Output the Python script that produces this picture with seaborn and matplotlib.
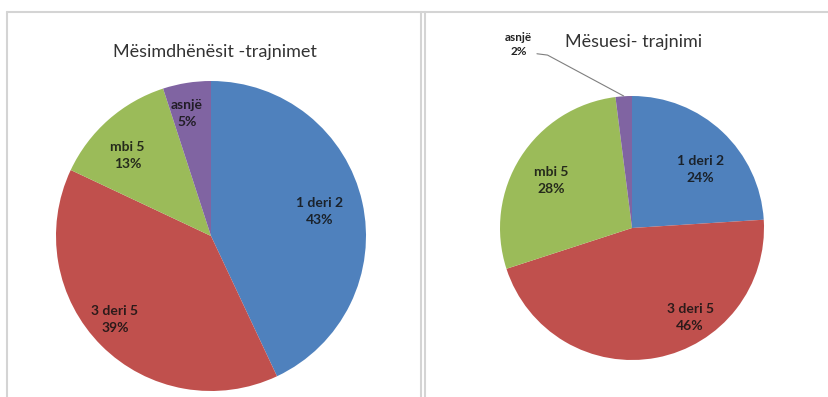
import matplotlib
matplotlib.use("Agg")
import matplotlib.pyplot as plt
import seaborn as sns
from matplotlib.lines import Line2D

# data
categories = ["1 deri 2", "3 deri 5", "mbi 5", "asnjë"]
teachers_pct = [43, 39, 13, 5]     # Mësimdhënësit -trajnimet
pupils_pct = [24, 46, 28, 2]       # Mësuesi- trajnimi
titles = ["Mësimdhënësit -trajnimet", "Mësuesi- trajnimi"]

sns.set_theme(style="white")
plt.rcParams['font.family'] = ['Lato', 'DejaVu Sans']

colors = ["#4F81BD", "#C0504D", "#9BBB59", "#8064A2"]
W, H = 829, 397

fig = plt.figure(figsize=(W / 100, H / 100), dpi=100)
fig.patch.set_facecolor("white")


def px_axes(cx, cy, r):
    # axes box around a pie, given in pixel coords (y from top)
    return fig.add_axes([(cx - r) / W, (H - cy - r) / H, 2 * r / W, 2 * r / H])


def draw_pie(ax, values, label_pos):
    wedges, _ = ax.pie(values, colors=colors, startangle=90, counterclock=False,
                       radius=1, wedgeprops=dict(linewidth=0))
    for cat, v, pos in zip(categories, values, label_pos):
        if pos is None:
            continue
        ax.text(pos[0], pos[1], f"{cat}\n{v}%", ha="center", va="center",
                fontsize=10, fontweight="bold", color="#111111", alpha=0.85,
                linespacing=1.5)
    ax.set_xlim(-1, 1)
    ax.set_ylim(-1, 1)
    ax.set_aspect("auto")
    ax.axis("off")
    return wedges


# left pie
ax1 = px_axes(211, 236, 155)
draw_pie(ax1, teachers_pct,
         [(0.70, 0.16), (-0.62, -0.54), (-0.54, 0.52), (-0.155, 0.79)])

# right pie
ax2 = px_axes(632, 228, 132)
w2 = draw_pie(ax2, pupils_pct,
              [(0.52, 0.44), (0.44, -0.68), (-0.61, 0.36), None])
ax2.text(-0.86, 1.39, f"{categories[3]}\n{pupils_pct[3]}%", ha="center", va="center",
         fontsize=8.5, fontweight="bold", color="#222222", linespacing=1.4, clip_on=False)
ax2.plot([-0.72, -0.64, -0.063], [1.32, 1.31, 1.0], color="#7f7f7f", lw=0.8,
         clip_on=False)

# titles
fig.text(215 / W, 1 - 52 / H, titles[0], ha="center", va="center",
         fontsize=13, color="#333333")
fig.text(634 / W, 1 - 42 / H, titles[1], ha="center", va="center",
         fontsize=13, color="#333333")

# panel borders
border = dict(color="#d4d4d4", lw=1.5, transform=fig.transFigure)
fig.add_artist(Line2D([7 / W, 1], [1 - 12 / H, 1 - 12 / H], **border))
fig.add_artist(Line2D([7 / W, 7 / W], [0, 1 - 12 / H], **border))
fig.add_artist(Line2D([421 / W, 421 / W], [0, 1 - 12 / H], **border))
fig.add_artist(Line2D([425 / W, 425 / W], [0, 1 - 12 / H], **border))

plt.savefig("out.png", dpi=100, facecolor="white")
